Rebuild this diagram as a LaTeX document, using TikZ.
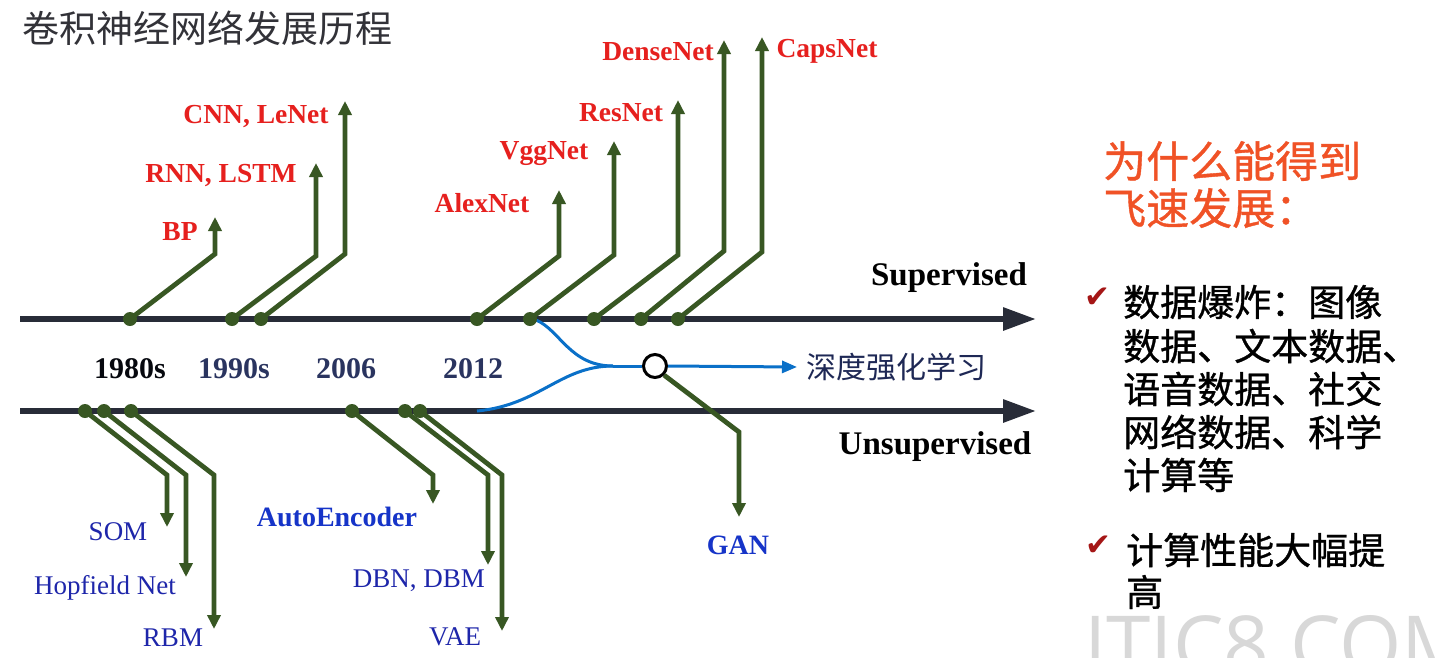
\documentclass[tikz,border=0pt]{standalone}
\usepackage{fontspec}
\setmainfont{Liberation Serif}
\newfontfamily\cjk{Noto Sans CJK SC}
\newfontfamily\cjkm[FakeBold=0.9]{Noto Sans CJK SC}
\newfontfamily\wmfont{Open Sans}
\newfontfamily\symfont{DejaVu Sans}
\usetikzlibrary{arrows.meta}
\definecolor{grn}{RGB}{56,87,35}
\definecolor{axisc}{RGB}{40,44,56}
\definecolor{lblred}{RGB}{230,32,30}
\definecolor{lblblue}{RGB}{30,38,170}
\definecolor{lblblueb}{RGB}{22,52,200}
\definecolor{yearc}{RGB}{42,52,95}
\definecolor{rlblue}{RGB}{10,112,200}
\definecolor{orng}{RGB}{240,82,38}
\definecolor{chk}{RGB}{165,22,22}
\definecolor{navy}{RGB}{30,40,85}
\definecolor{titlec}{RGB}{50,50,56}
\definecolor{wmc}{RGB}{216,216,216}
\begin{document}
\begin{tikzpicture}[x=1pt,y=-1pt,
  axisline/.style={line width=6pt, draw=axisc, -{Triangle[length=33pt,width=22pt]}},
  branch/.style={line width=4.8pt, draw=grn, -{Triangle[length=14pt,width=13pt]}},
  dot/.style={circle, fill=grn, inner sep=0pt, minimum size=14pt},
  redlbl/.style={text=lblred, font=\fontsize{27.5}{27.5}\selectfont\bfseries, inner sep=0pt},
  bluelbl/.style={text=lblblue, font=\fontsize{27}{27}\selectfont, inner sep=0pt},
  blueblbl/.style={text=lblblueb, font=\fontsize{28}{28}\selectfont\bfseries, inner sep=0pt},
  yearlbl/.style={text=yearc, font=\fontsize{30}{30}\selectfont\bfseries, inner sep=0pt},
  axislbl/.style={text=black, font=\fontsize{33}{33}\selectfont\bfseries, inner sep=0pt},
  rlline/.style={line width=3pt, draw=rlblue},
  bodytxt/.style={text=black, font=\cjkm\fontsize{37}{37}\selectfont, inner sep=0pt, anchor=west},
  headtxt/.style={text=orng, font=\cjkm\fontsize{43}{43}\selectfont, inner sep=0pt, anchor=west},
  chkmark/.style={text=chk, font=\symfont\fontsize{31}{31}\selectfont, inner sep=0pt}
]
\fill[white] (0,0) rectangle (1438,657);
\useasboundingbox (0,0) rectangle (1438,657);

% title
\node[text=titlec, font=\cjk\fontsize{37}{37}\selectfont, inner sep=0pt, anchor=west] (title) at (22,28) {卷积神经网络发展历程};

% axes
\coordinate (supL) at (20,319);
\coordinate (supR) at (1036,319);
\coordinate (unsL) at (20,411);
\coordinate (unsR) at (1036,411);
\draw[axisline] (supL) -- (supR);
\draw[axisline] (unsL) -- (unsR);

% blue curves (deep reinforcement learning)
\coordinate (rlA) at (536,320);
\coordinate (rlB) at (477,411);
\coordinate (mrg) at (613,366);
\node[circle, draw=black, fill=white, line width=3pt, minimum size=23pt, inner sep=0pt] (circ) at (655,366) {};
\node[text=navy, font=\cjk\fontsize{30}{30}\selectfont, inner sep=0pt, anchor=west] (drl) at (806,367) {深度强化学习};
\draw[rlline] (rlA) .. controls (560,330) and (570,366) .. (mrg);
\draw[rlline] (rlB) .. controls (540,405) and (560,366) .. (mrg);
\draw[rlline] (mrg) -- (circ.west);
\draw[rlline, -{Triangle[length=15pt,width=12pt]}] (circ.east) -- ([xshift=-9pt]drl.west);

% upper branches
\foreach \n/\px/\bx/\by/\ty in {bp/130/215/254/217, rnn/232/316/256/163, cnn/261/345/254/101,
    alex/477/559/256/190, vgg/530/614/255/141, res/594/678/255/100,
    dense/641/724/251/40, caps/678/762/252/37} {
  \coordinate (p\n) at (\px,319);
  \coordinate (b\n) at (\bx,\by);
  \coordinate (t\n) at (\bx,\ty);
  \draw[branch] (p\n) -- (b\n) -- (t\n);
}
% lower branches
\foreach \n/\px/\bx/\by/\ty in {som/85/167/475/527, hop/104/186/475/577, rbm/131/214/475/629,
    ae/352/433/475/504, dbn/405/488/475/565, vae/420/502/475/631} {
  \coordinate (p\n) at (\px,411);
  \coordinate (b\n) at (\bx,\by);
  \coordinate (t\n) at (\bx,\ty);
  \draw[branch] (p\n) -- (b\n) -- (t\n);
}
% GAN branch
\coordinate (bgan) at (739,432);
\coordinate (tgan) at (739,517);
\draw[branch] (circ.-45) -- (bgan) -- (tgan);

% dots
\foreach \n in {bp,rnn,cnn,alex,vgg,res,dense,caps,som,hop,rbm,ae,dbn,vae}
  \node[dot] (d\n) at (p\n) {};

% upper labels
\node[redlbl] (lbp) at (180,232) {BP};
\node[redlbl] (lrnn) at (221,176) {RNN, LSTM};
\node[redlbl] (lcnn) at (256,117) {CNN, LeNet};
\node[redlbl] (lalex) at (482,203) {AlexNet};
\node[redlbl] (lvgg) at (544,154) {VggNet};
\node[redlbl] (lres) at (621,113) {ResNet};
\node[redlbl] (ldense) at (658,52) {DenseNet};
\node[redlbl] (lcaps) at (827,51) {CapsNet};

% lower labels
\node[bluelbl] (lsom) at (118,532) {SOM};
\node[bluelbl] (lhop) at (105,588) {Hopfield Net};
\node[bluelbl] (lrbm) at (173,638) {RBM};
\node[blueblbl] (lae) at (337,517) {AutoEncoder};
\node[bluelbl] (ldbn) at (419,581) {DBN, DBM};
\node[bluelbl] (lvae) at (455,637) {VAE};
\node[blueblbl] (lgan) at (738,545) {GAN};

% years
\node[yearlbl, text=black!85!yearc] (y1980) at (130,369) {1980s};
\node[yearlbl] (y1990) at (234,369) {1990s};
\node[yearlbl] (y2006) at (346,369) {2006};
\node[yearlbl] (y2012) at (473,369) {2012};

% axis labels
\node[axislbl] (lsup) at (949,278) {Supervised};
\node[axislbl] (luns) at (935,447) {Unsupervised};

% right text
\node[headtxt] (h1) at (1103,161) {为什么能得到};
\node[headtxt] (h2) at (1103,208) {飞速发展：};
\node[chkmark] (c1) at (1097,298) {✔};
\node[bodytxt] (t1) at (1123,302) {数据爆炸：图像};
\node[bodytxt] (t2) at (1123,346) {数据、文本数据、};
\node[bodytxt] (t3) at (1123,389) {语音数据、社交};
\node[bodytxt] (t4) at (1123,432) {网络数据、科学};
\node[bodytxt] (t5) at (1123,475) {计算等};
\node[chkmark] (c2) at (1098,546) {✔};
\node[bodytxt] (t6) at (1126,550) {计算性能大幅提};
\node[bodytxt] (t7) at (1126,592) {高};

% watermark
\node[text=wmc, font=\wmfont\fontsize{80}{80}\selectfont, inner sep=0pt, anchor=north west] (wm) at (1084,615) {ITIC8 COM};
\end{tikzpicture}
\end{document}
